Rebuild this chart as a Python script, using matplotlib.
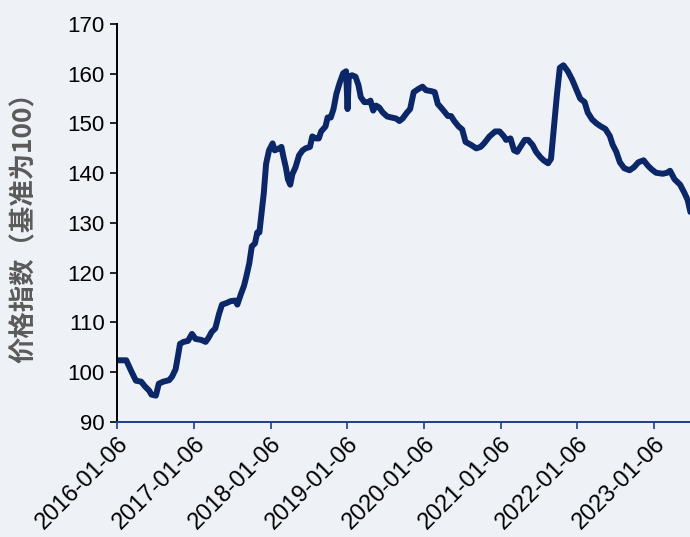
import pandas as pd
import matplotlib.pyplot as plt

# Price index (base = 100), traced points
dates = [
    "2016-01-06", "2016-02-19", "2016-03-15", "2016-04-05", "2016-04-30", "2016-05-17",
    "2016-06-07", "2016-06-18", "2016-07-09", "2016-07-23", "2016-08-13", "2016-09-10",
    "2016-09-24", "2016-10-11", "2016-10-22", "2016-11-01", "2016-11-18", "2016-12-09",
    "2016-12-28", "2017-01-14", "2017-02-10", "2017-03-03", "2017-03-18", "2017-04-01",
    "2017-04-18", "2017-05-05", "2017-05-20", "2017-06-10", "2017-07-01", "2017-07-22",
    "2017-08-01", "2017-08-18", "2017-09-02", "2017-09-12", "2017-09-27", "2017-10-09",
    "2017-10-24", "2017-11-04", "2017-11-14", "2017-11-25", "2017-12-05", "2017-12-16",
    "2017-12-30", "2018-01-16", "2018-01-26", "2018-02-16", "2018-02-27", "2018-03-09",
    "2018-03-20", "2018-03-30", "2018-04-10", "2018-04-20", "2018-05-05", "2018-05-22",
    "2018-06-08", "2018-06-22", "2018-07-13", "2018-07-24", "2018-08-10", "2018-08-24",
    "2018-09-04", "2018-09-25", "2018-10-05", "2018-10-20", "2018-11-02", "2018-11-16",
    "2018-12-01", "2018-12-18", "2019-01-01", "2019-01-08", "2019-01-14", "2019-01-29",
    "2019-02-15", "2019-03-01", "2019-03-12", "2019-03-29", "2019-04-19", "2019-04-27",
    "2019-05-10", "2019-05-24", "2019-06-08", "2019-06-25", "2019-07-16", "2019-08-06",
    "2019-08-27", "2019-09-12", "2019-09-27", "2019-10-18", "2019-11-02", "2019-11-19",
    "2019-12-10", "2019-12-31", "2020-01-16", "2020-02-11", "2020-02-27", "2020-03-13",
    "2020-03-24", "2020-04-09", "2020-04-30", "2020-05-15", "2020-05-30", "2020-06-20",
    "2020-07-07", "2020-07-23", "2020-08-18", "2020-09-12", "2020-10-03", "2020-10-19",
    "2020-11-14", "2020-12-11", "2021-01-01", "2021-01-22", "2021-02-01", "2021-02-22",
    "2021-03-11", "2021-03-26", "2021-04-10", "2021-05-01", "2021-05-17", "2021-06-07",
    "2021-06-24", "2021-07-15", "2021-07-30", "2021-08-20", "2021-09-03", "2021-09-16",
    "2021-10-01", "2021-10-15", "2021-11-01", "2021-11-22", "2021-12-13", "2022-01-03",
    "2022-01-20", "2022-02-10", "2022-02-25", "2022-03-18", "2022-04-08", "2022-04-29",
    "2022-05-20", "2022-06-10", "2022-06-24", "2022-07-11", "2022-07-28", "2022-08-18",
    "2022-09-12", "2022-10-03", "2022-10-24", "2022-11-18", "2022-12-09", "2022-12-26",
    "2023-01-16", "2023-02-17", "2023-03-10", "2023-03-24", "2023-04-14", "2023-05-11",
    "2023-06-01", "2023-06-16", "2023-06-29",
]
values = [
    102.4, 102.4, 100.1, 98.3, 98.1, 97.2,
    96.3, 95.5, 95.3, 97.7, 98.1, 98.4,
    99.1, 100.6, 103.2, 105.7, 106.1, 106.3,
    107.7, 106.7, 106.5, 106.1, 107.0, 108.1,
    108.8, 111.6, 113.6, 113.9, 114.3, 114.4,
    113.6, 115.7, 117.4, 119.1, 121.9, 125.3,
    125.9, 128.1, 128.1, 132.2, 136.0, 141.9,
    144.6, 146.0, 144.6, 145.0, 145.3, 143.2,
    141.2, 138.8, 137.7, 139.8, 141.2, 143.6,
    144.6, 145.0, 145.3, 147.4, 147.0, 147.0,
    148.4, 149.4, 151.2, 151.2, 152.9, 156.0,
    158.1, 160.1, 160.5, 152.9, 159.4, 159.7,
    159.4, 157.7, 155.3, 154.3, 154.3, 154.6,
    152.6, 153.6, 153.2, 152.2, 151.4, 151.2,
    151.0, 150.5, 151.0, 152.2, 152.9, 156.3,
    156.9, 157.4, 156.7, 156.5, 156.3, 153.9,
    153.4, 152.6, 151.5, 151.5, 150.5, 149.4,
    148.8, 146.3, 145.7, 145.0, 145.3, 146.0,
    147.4, 148.4, 148.4, 147.4, 146.7, 147.0,
    144.6, 144.3, 145.3, 146.7, 146.7, 145.7,
    144.3, 143.2, 142.6, 142.0, 142.9, 148.8,
    155.7, 161.2, 161.7, 160.5, 158.8, 156.7,
    155.0, 154.3, 152.2, 150.8, 150.0, 149.4,
    148.9, 147.5, 145.7, 144.3, 142.2, 141.0,
    140.6, 141.2, 142.2, 142.6, 141.5, 140.8,
    140.1, 139.9, 140.1, 140.5, 138.8, 137.7,
    136.0, 134.6, 132.2,
]
tick_labels = ["2016-01-06", "2017-01-06", "2018-01-06", "2019-01-06",
               "2020-01-06", "2021-01-06", "2022-01-06", "2023-01-06"]

bg = "#eef1f6"
line_color = "#0b2767"
axis_blue = "#1f3f86"

x = pd.to_datetime(dates)
ticks = pd.to_datetime(tick_labels)

fig = plt.figure(figsize=(6.9, 5.37), dpi=100, facecolor=bg)
ax = fig.add_axes([0.1696, 0.2142, 0.8304, 0.7411])
ax.set_facecolor(bg)

ax.plot(x, values, color=line_color, linewidth=4.3, solid_joinstyle="round",
        solid_capstyle="round")

ax.set_ylim(90, 170)
ax.set_yticks(range(90, 171, 10))
ax.set_xlim(pd.Timestamp("2016-01-06"), pd.Timestamp("2023-06-27"))
ax.set_xticks(ticks)
ax.set_xticklabels(tick_labels, rotation=45, ha="right", rotation_mode="anchor")

for lab in ax.get_yticklabels():
    lab.set_fontfamily("Liberation Sans")
    lab.set_fontsize(16)
for lab in ax.get_xticklabels():
    lab.set_fontfamily("Liberation Sans")
    lab.set_fontsize(17)

ax.tick_params(axis="y", direction="out", length=5, width=1.2, color="black", pad=4)
ax.tick_params(axis="x", direction="out", length=5, width=1.2, color=axis_blue, pad=3)

ax.spines["top"].set_visible(False)
ax.spines["right"].set_visible(False)
ax.spines["left"].set_color("black")
ax.spines["left"].set_linewidth(1.4)
ax.spines["bottom"].set_color(axis_blue)
ax.spines["bottom"].set_linewidth(1.4)

ax.set_ylabel("价格指数（基准为100）", family=["Noto Sans CJK SC", "DejaVu Sans"],
              fontsize=19, fontweight="bold", color="#5a5a5a")
ax.yaxis.set_label_coords(-0.139, 0.505)

fig.savefig("out.png", dpi=100, facecolor=bg)
